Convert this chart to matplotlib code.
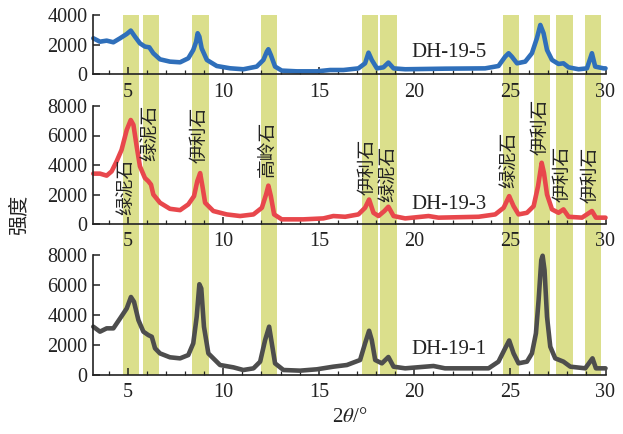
import matplotlib
matplotlib.use("Agg")
import matplotlib.pyplot as plt
from matplotlib.ticker import MultipleLocator

plt.rcParams['font.family'] = ['Liberation Serif', 'Noto Sans CJK SC', 'DejaVu Sans']
plt.rcParams['mathtext.fontset'] = 'stix'

# ---- data ----
x_top = [3.2, 3.55, 3.9, 4.25, 4.6, 4.95, 5.16, 5.38, 5.64, 5.9, 6.13, 6.34, 6.69, 7.21, 7.74,
         8.17, 8.43, 8.58, 8.66, 8.75, 8.87, 9.14, 9.66, 10.36, 11.05, 11.75, 12.1, 12.28,
         12.36, 12.49, 12.71, 13.06, 13.85, 14.9, 15.59, 16.29, 17.07, 17.42, 17.6, 17.77,
         18.04, 18.38, 18.64, 18.91, 19.52, 21.6, 23.7, 24.4, 24.75, 24.93, 25.1, 25.37,
         25.8, 26.15, 26.41, 26.59, 26.76, 26.94, 27.2, 27.54, 27.8, 28.07, 28.59, 29.03,
         29.29, 29.46, 29.9, 30.0]
y_top = [2430, 2200, 2270, 2160, 2430, 2720, 2950, 2540, 2090, 1870, 1820, 1420, 1010, 855, 810,
         1080, 1640, 2200, 2770, 2540, 1750, 970, 560, 405, 340, 520, 970, 1530,
         1690, 1300, 520, 250, 200, 200, 290, 290, 400, 740, 1460, 970,
         400, 470, 790, 400, 340, 380, 400, 560, 1190, 1420, 1190, 740,
         855, 1420, 2430, 3330, 2770, 1640, 970, 700, 740, 470, 340, 400,
         1420, 520, 400, 400]

x_mid = [3.2, 3.55, 3.9, 4.16, 4.42, 4.68, 4.95, 5.16, 5.3, 5.47, 5.64, 5.9, 6.08, 6.22, 6.34,
         6.69, 7.21, 7.74, 8.17, 8.47, 8.64, 8.79, 8.91, 9.05, 9.48, 10.18, 10.88, 11.58,
         12.02, 12.24, 12.36, 12.49, 12.66, 13.06, 14.19, 15.24, 15.76, 16.38, 17.07, 17.42,
         17.63, 17.86, 18.12, 18.43, 18.64, 18.91, 19.52, 20.74, 21.26, 23.36, 24.23, 24.67,
         24.96, 25.19, 25.45, 25.89, 26.24, 26.47, 26.66, 26.78, 26.94, 27.2, 27.54, 27.8,
         28.07, 28.77, 29.29, 29.5, 30.0]
y_mid = [3415, 3415, 3280, 3570, 4250, 5030, 6380, 7050, 6720, 5260, 3910, 3120, 2900, 2670, 2000,
         1440, 1030, 940, 1330, 1890, 2900, 3450, 2560, 1440, 880, 650, 540, 650,
         1100, 2000, 2600, 1890, 650, 315, 315, 380, 540, 490, 650, 1100,
         1660, 760, 540, 880, 1170, 540, 380, 540, 430, 490, 650, 1100,
         1890, 1210, 650, 760, 1210, 2560, 4150, 3460, 2000, 990, 760, 990,
         490, 430, 880, 430, 430]

x_bot = [3.2, 3.55, 3.9, 4.25, 4.6, 4.95, 5.17, 5.33, 5.56, 5.82, 6.08, 6.26, 6.43, 6.69, 7.21,
         7.74, 8.17, 8.43, 8.61, 8.75, 8.85, 8.99, 9.22, 9.83, 10.53, 11.05, 11.58, 11.93,
         12.19, 12.4, 12.54, 12.71, 13.15, 14.02, 14.9, 15.76, 16.47, 17.16, 17.42, 17.63,
         17.77, 17.95, 18.3, 18.64, 18.91, 19.52, 21.0, 21.6, 23.88, 24.4, 24.75, 24.96,
         25.19, 25.45, 25.89, 26.15, 26.36, 26.5, 26.64, 26.71, 26.81, 26.94, 27.11, 27.37,
         27.8, 28.16, 28.94, 29.32, 29.5, 30.0]
y_bot = [3220, 2890, 3110, 3110, 3770, 4440, 5200, 4880, 3660, 2890, 2660, 2550, 1780, 1440, 1180,
         1110, 1330, 2110, 3885, 6050, 5770, 3220, 1440, 666, 510, 333, 444, 890,
         2330, 3220, 2110, 777, 333, 290, 380, 555, 666, 1000, 2110, 2950,
         2330, 1000, 777, 1200, 555, 445, 600, 445, 445, 890, 1780, 2300,
         1440, 780, 890, 1440, 2775, 5000, 7660, 7950, 6990, 3885, 1890, 1110,
         890, 555, 445, 1110, 445, 445]

band_lo = [4.74, 5.78, 8.38, 11.95, 17.25, 18.2, 24.63, 26.24, 27.42, 28.92]
band_hi = [5.58, 6.64, 9.24, 12.82, 18.1, 19.08, 25.47, 27.11, 28.28, 29.78]

mineral_labels = ['绿泥石', '绿泥石', '伊利石', '高岭石', '伊利石', '绿泥石', '绿泥石', '伊利石', '伊利石', '伊利石']
mineral_x = [4.88, 6.15, 8.72, 12.3, 17.55, 18.62, 24.93, 26.6, 27.74, 29.2]
mineral_y = [620, 4250, 4140, 3190, 1950, 1500, 2440, 4650, 1500, 1420]

sample_names = ['DH-19-5', 'DH-19-3', 'DH-19-1']
sample_x = [21.8, 21.8, 21.8]
sample_y = [1470, 1300, 1700]

x_ticks = [5, 10, 15, 20, 25, 30]

colors = ['#2f6fba', '#e8474c', '#4d4d4d']
band_color = '#dbdf8c'

# ---- figure ----
W, H = 623, 434
fig = plt.figure(figsize=(W / 100, H / 100), dpi=100)

left = 93.3 / W
right = 605.5 / W
width = right - left

def fy(py):
    return 1 - py / H

# background bands spanning all panels
ax_bg = fig.add_axes([left, fy(375), width, fy(15) - fy(375)], zorder=0)
ax_bg.set_xlim(3.2, 30)
ax_bg.set_ylim(0, 1)
for lo, hi in zip(band_lo, band_hi):
    ax_bg.axvspan(lo, hi, color=band_color, lw=0)
ax_bg.axis('off')

panels = [
    (fy(74.3), fy(15), x_top, y_top, 4000, 2000),
    (fy(224), fy(106), x_mid, y_mid, 8000, 2000),
    (fy(375), fy(255), x_bot, y_bot, 8000, 2000),
]

axes = []
for i, (b, t, xs, ys, ymax, ystep) in enumerate(panels):
    ax = fig.add_axes([left, b, width, t - b], zorder=2)
    ax.patch.set_alpha(0)
    ax.plot(xs, ys, color=colors[i], lw=3.3, solid_joinstyle='round', solid_capstyle='round',
            clip_on=False)
    ax.set_xlim(3.2, 30)
    ax.set_ylim(0, ymax)
    ax.set_xticks(x_ticks)
    ax.xaxis.set_minor_locator(MultipleLocator(1))
    ax.set_yticks(list(range(0, ymax + 1, ystep)))
    for s in ['top', 'right']:
        ax.spines[s].set_visible(False)
    for s in ['left', 'bottom']:
        ax.spines[s].set_linewidth(1.2)
        ax.spines[s].set_color('#222222')
    ax.tick_params(axis='both', which='both', direction='in', colors='#222222', labelsize=14.5)
    ax.tick_params(axis='x', which='major', length=5, width=1.1, pad=6)
    ax.tick_params(axis='x', which='minor', length=3, width=0.9)
    ax.tick_params(axis='y', which='major', length=5, width=1.1, pad=4)
    ax.text(sample_x[i], sample_y[i], sample_names[i], ha='center', va='center',
            fontsize=15, color='#222222', family=['Liberation Serif'])
    axes.append(ax)

ax_mid = axes[1]
for lab, lx, ly in zip(mineral_labels, mineral_x, mineral_y):
    ax_mid.text(lx, ly, lab, rotation=90, ha='center', va='bottom', fontsize=13.5,
                color='#222222', family=['Noto Sans CJK SC'], zorder=5)

fig.text(19 / W, fy(215), '强度', rotation=90, ha='center', va='center', fontsize=14.5,
         family=['Noto Sans CJK SC'], color='#222222')
fig.text(350 / W, fy(418), r'2$\theta$/°', ha='center', va='center', fontsize=15,
         color='#222222')

fig.savefig('out.png', dpi=100)
